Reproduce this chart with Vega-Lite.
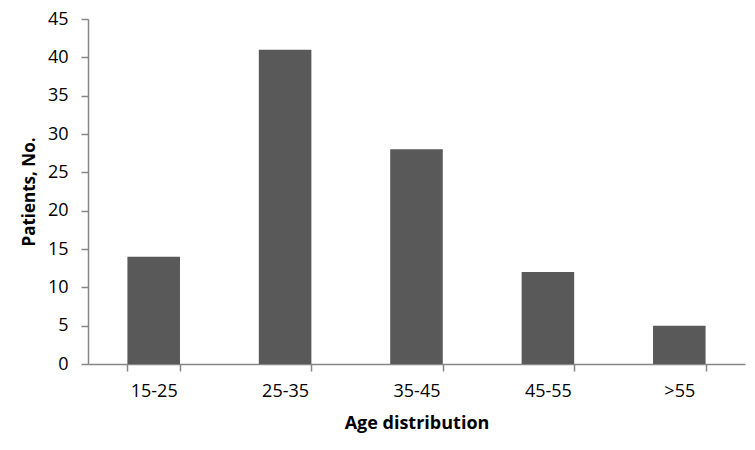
{
  "$schema": "https://vega.github.io/schema/vega-lite/v6.json",
  "width": 657,
  "height": 345,
  "autosize": "none",
  "padding": {"left": 88, "top": 19, "right": 10, "bottom": 86},
  "background": "white",
  "config": {
    "view": {"stroke": null},
    "font": "Open Sans"
  },
  "data": {
    "values": [
      {"age": "15-25", "patients": 14},
      {"age": "25-35", "patients": 41},
      {"age": "35-45", "patients": 28},
      {"age": "45-55", "patients": 12},
      {"age": ">55", "patients": 5}
    ]
  },
  "mark": {"type": "bar", "color": "#595959"},
  "encoding": {
    "x": {
      "field": "age",
      "type": "nominal",
      "sort": null,
      "scale": {"paddingInner": 0.6, "paddingOuter": 0.3},
      "axis": {
        "title": "Age distribution",
        "labelAngle": 0,
        "labelFontSize": 18,
        "labelColor": "#000000",
        "labelPadding": 11,
        "titleFontSize": 18,
        "titleFontWeight": "bold",
        "titleColor": "#000000",
        "titlePadding": 14,
        "domainColor": "#868686",
        "domainWidth": 1.5,
        "tickColor": "#868686",
        "tickWidth": 1.5,
        "tickSize": 7,
        "tickBand": "extent",
        "grid": false
      }
    },
    "y": {
      "field": "patients",
      "type": "quantitative",
      "scale": {"domain": [0, 45]},
      "axis": {
        "title": "Patients, No.",
        "values": [0, 5, 10, 15, 20, 25, 30, 35, 40, 45],
        "labelFontSize": 18,
        "labelColor": "#000000",
        "labelPadding": 13,
        "titleFontSize": 17,
        "titleFontWeight": "bold",
        "titleColor": "#000000",
        "titlePadding": 9,
        "domainColor": "#868686",
        "domainWidth": 1.5,
        "tickColor": "#868686",
        "tickWidth": 1.5,
        "tickSize": 7,
        "grid": false
      }
    }
  }
}
